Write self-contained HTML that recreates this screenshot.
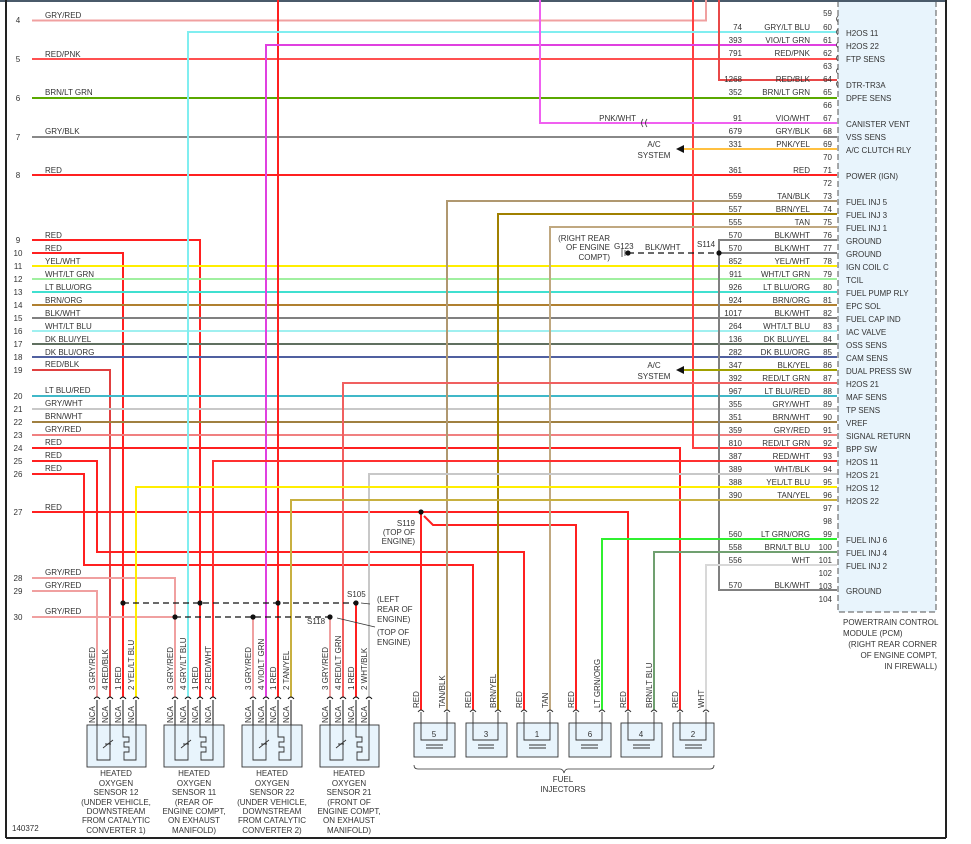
<!DOCTYPE html>
<html><head><meta charset="utf-8"><style>
html,body{margin:0;padding:0;background:#fff;}
svg{display:block;font-family:"Liberation Sans",sans-serif;}
text{font-size:8px;fill:#333;}
</style></head><body>
<svg width="971" height="844" viewBox="0 0 971 844" xmlns="http://www.w3.org/2000/svg">
<rect x="838" y="0" width="98" height="612" fill="#e8f4fc" stroke="#555" stroke-dasharray="6,3"/>
<line x1="0" y1="1" x2="946" y2="1" stroke="#4a5a6a" stroke-width="2"/>
<line x1="6" y1="0" x2="6" y2="838" stroke="#222" stroke-width="2"/>
<line x1="946" y1="0" x2="946" y2="838" stroke="#222" stroke-width="2"/>
<line x1="6" y1="838" x2="946" y2="838" stroke="#222" stroke-width="2"/>
<g fill="none" stroke-width="2">
<!-- left rows -->
<polyline points="32,20.5 706,20.5 706,0" stroke="#f0a0a0"/>
<line x1="32" y1="59" x2="837" y2="59" stroke="#ff5050"/>
<line x1="32" y1="98" x2="837" y2="98" stroke="#5aa800"/>
<line x1="32" y1="137" x2="837" y2="137" stroke="#888"/>
<line x1="32" y1="175" x2="837" y2="175" stroke="#ff2020"/>
<polyline points="32,240 200,240 200,697" stroke="#ff2020"/>
<polyline points="32,253 123,253 123,697" stroke="#ff2020"/>
<line x1="32" y1="266" x2="837" y2="266" stroke="#ffee00"/>
<line x1="32" y1="279" x2="837" y2="279" stroke="#a0f0a0"/>
<line x1="32" y1="292" x2="837" y2="292" stroke="#40e0d0"/>
<line x1="32" y1="305" x2="837" y2="305" stroke="#b08030"/>
<line x1="32" y1="318" x2="837" y2="318" stroke="#808080"/>
<line x1="32" y1="331" x2="837" y2="331" stroke="#a0f0f0"/>
<line x1="32" y1="344" x2="837" y2="344" stroke="#607060"/>
<line x1="32" y1="357" x2="837" y2="357" stroke="#5060a0"/>
<polyline points="32,370 110,370 110,697" stroke="#e04040"/>
<line x1="32" y1="396" x2="837" y2="396" stroke="#40b8c8"/>
<line x1="32" y1="409" x2="837" y2="409" stroke="#c8c8c8"/>
<line x1="32" y1="422" x2="837" y2="422" stroke="#a08040"/>
<line x1="32" y1="435" x2="837" y2="435" stroke="#f08080"/>
<polyline points="32,448 680,448 680,710" stroke="#ff2020"/>
<polyline points="693,0 693,448 837,448" stroke="#ff4040"/>
<polyline points="32,461 97,461 97,552 524,552 524,710" stroke="#ff2020"/>
<polyline points="32,474 84,474 84,565 473,565 473,710" stroke="#ff2020"/>
<polyline points="32,512 628,512 628,710" stroke="#ff2020"/>
<polyline points="421,512 421,710" stroke="#ff2020"/>
<polyline points="424,516 433,525 576,525 576,710" stroke="#ff2020"/>
<polyline points="32,578 175,578 175,697" stroke="#f0a0a0"/>
<polyline points="32,591 97,591 97,697" stroke="#f0a0a0"/>
<polyline points="32,617 175,617" stroke="#f0a0a0"/>
<polyline points="253,617 253,697" stroke="#f0a0a0"/>
<polyline points="330,617 330,697" stroke="#f0a0a0"/>
<polyline points="356,603 356,697" stroke="#ff2020"/>
<polyline points="278,0 278,697" stroke="#ff2020"/>
<!-- right side -->
<polyline points="837,32 188,32 188,697" stroke="#80eef0"/>
<polyline points="837,45 266,45 266,697" stroke="#e040e0"/>
<polyline points="837,80 719,80 719,0" stroke="#e84848"/>
<polyline points="837,123 540,123 540,0" stroke="#f060f0"/>
<polyline points="837,149 684,149" stroke="#ffc040"/>
<polyline points="837,201 447,201 447,710" stroke="#b09870"/>
<polyline points="837,214 498,214 498,710" stroke="#a08000"/>
<polyline points="837,227 550,227 550,710" stroke="#c0a880"/>
<polyline points="837,240 719,240 719,590 837,590" stroke="#808080"/>
<line x1="719" y1="253" x2="837" y2="253" stroke="#808080"/>
<polyline points="837,370 684,370" stroke="#a0a000"/>
<polyline points="837,383 343,383 343,697" stroke="#f06060"/>
<polyline points="837,461 213,461 213,697" stroke="#ff3030"/>
<polyline points="837,474 369,474 369,697" stroke="#c8c8c8"/>
<polyline points="837,487 136,487 136,697" stroke="#ffee00"/>
<polyline points="837,500 291,500 291,697" stroke="#c8b040"/>
<polyline points="837,539 602,539 602,710" stroke="#30f030"/>
<polyline points="837,552 654,552 654,710" stroke="#70a070"/>
<polyline points="837,565 706,565 706,710" stroke="#d8d8d8"/>
</g>
<g stroke="#111" stroke-width="1.3" stroke-dasharray="6,4" fill="none">
<line x1="123" y1="603" x2="356" y2="603"/>
<line x1="175" y1="617" x2="330" y2="617"/>
<line x1="628" y1="253" x2="719" y2="253"/>
</g>
<g fill="#111">
<circle cx="123" cy="603" r="2.6"/><circle cx="200" cy="603" r="2.6"/><circle cx="278" cy="603" r="2.6"/><circle cx="356" cy="603" r="2.6"/>
<circle cx="175" cy="617" r="2.6"/><circle cx="253" cy="617" r="2.6"/><circle cx="330" cy="617" r="2.6"/>
<circle cx="421" cy="512" r="2.6"/><circle cx="719" cy="253" r="2.6"/><circle cx="628" cy="253" r="2.6"/>
<polygon points="676,149 684,145 684,153"/><polygon points="676,370 684,366 684,374"/>
</g>
<g stroke="#333" stroke-width="0.8" fill="none">
<line x1="622" y1="249" x2="622" y2="257"/><line x1="625" y1="250" x2="625" y2="256"/>
<line x1="370" y1="604" x2="361" y2="603"/><line x1="375" y1="627" x2="337" y2="618"/>
<path d="M643,119 q-3,4 0,8 M647,119 q-3,4 0,8"/>
<path d="M414,765 q0,4 4,4 L560,769 q3,0 4,4 q1,-4 4,-4 L710,769 q4,0 4,-4"/>
</g>
<!-- pin marks -->
<g stroke="#444" stroke-width="0.8" fill="none" id="pm">
<path d="M838,16 q-3,3 0,6"/><path d="M838,29 q-3,3 0,6"/><path d="M838,42 q-3,3 0,6"/><path d="M838,55 q-3,3 0,6"/><path d="M838,68 q-3,3 0,6"/><path d="M838,81 q-3,3 0,6"/>
</g>
<g font-size="8">
<!-- left row labels -->
<g text-anchor="middle">
<text x="18" y="23">4</text><text x="18" y="62">5</text><text x="18" y="101">6</text><text x="18" y="140">7</text><text x="18" y="178">8</text>
<text x="18" y="243">9</text><text x="18" y="256">10</text><text x="18" y="269">11</text><text x="18" y="282">12</text><text x="18" y="295">13</text><text x="18" y="308">14</text><text x="18" y="321">15</text><text x="18" y="334">16</text><text x="18" y="347">17</text><text x="18" y="360">18</text><text x="18" y="373">19</text>
<text x="18" y="399">20</text><text x="18" y="412">21</text><text x="18" y="425">22</text><text x="18" y="438">23</text><text x="18" y="451">24</text><text x="18" y="464">25</text><text x="18" y="477">26</text><text x="18" y="515">27</text><text x="18" y="581">28</text><text x="18" y="594">29</text><text x="18" y="620">30</text>
</g>
<text x="45" y="18">GRY/RED</text><text x="45" y="57">RED/PNK</text><text x="45" y="95">BRN/LT GRN</text><text x="45" y="134">GRY/BLK</text><text x="45" y="173">RED</text>
<text x="45" y="238">RED</text><text x="45" y="251">RED</text><text x="45" y="264">YEL/WHT</text><text x="45" y="277">WHT/LT GRN</text><text x="45" y="290">LT BLU/ORG</text><text x="45" y="303">BRN/ORG</text><text x="45" y="316">BLK/WHT</text><text x="45" y="329">WHT/LT BLU</text><text x="45" y="342">DK BLU/YEL</text><text x="45" y="355">DK BLU/ORG</text><text x="45" y="367">RED/BLK</text>
<text x="45" y="393">LT BLU/RED</text><text x="45" y="406">GRY/WHT</text><text x="45" y="419">BRN/WHT</text><text x="45" y="432">GRY/RED</text><text x="45" y="445">RED</text><text x="45" y="458">RED</text><text x="45" y="471">RED</text><text x="45" y="510">RED</text><text x="45" y="575">GRY/RED</text><text x="45" y="588">GRY/RED</text><text x="45" y="614">GRY/RED</text>
<!-- pin numbers -->
<g text-anchor="end">
<text x="832" y="16">59</text><text x="832" y="30">60</text><text x="832" y="43">61</text><text x="832" y="56">62</text><text x="832" y="69">63</text><text x="832" y="82">64</text><text x="832" y="95">65</text><text x="832" y="108">66</text><text x="832" y="121">67</text><text x="832" y="134">68</text><text x="832" y="147">69</text><text x="832" y="160">70</text><text x="832" y="173">71</text><text x="832" y="186">72</text><text x="832" y="199">73</text><text x="832" y="212">74</text><text x="832" y="225">75</text><text x="832" y="238">76</text><text x="832" y="251">77</text><text x="832" y="264">78</text><text x="832" y="277">79</text><text x="832" y="290">80</text><text x="832" y="303">81</text><text x="832" y="316">82</text><text x="832" y="329">83</text><text x="832" y="342">84</text><text x="832" y="355">85</text><text x="832" y="368">86</text><text x="832" y="381">87</text><text x="832" y="394">88</text><text x="832" y="407">89</text><text x="832" y="420">90</text><text x="832" y="433">91</text><text x="832" y="446">92</text><text x="832" y="459">93</text><text x="832" y="472">94</text><text x="832" y="485">95</text><text x="832" y="498">96</text><text x="832" y="511">97</text><text x="832" y="524">98</text><text x="832" y="537">99</text><text x="832" y="550">100</text><text x="832" y="563">101</text><text x="832" y="576">102</text><text x="832" y="589">103</text><text x="832" y="602">104</text>
<!-- circuits -->
<text x="742" y="30">74</text><text x="810" y="30">GRY/LT BLU</text>
<text x="742" y="43">393</text><text x="810" y="43">VIO/LT GRN</text>
<text x="742" y="56">791</text><text x="810" y="56">RED/PNK</text>
<text x="742" y="82">1268</text><text x="810" y="82">RED/BLK</text>
<text x="742" y="95">352</text><text x="810" y="95">BRN/LT GRN</text>
<text x="742" y="121">91</text><text x="810" y="121">VIO/WHT</text><text x="636" y="121">PNK/WHT</text>
<text x="742" y="134">679</text><text x="810" y="134">GRY/BLK</text>
<text x="742" y="147">331</text><text x="810" y="147">PNK/YEL</text>
<text x="742" y="173">361</text><text x="810" y="173">RED</text>
<text x="742" y="199">559</text><text x="810" y="199">TAN/BLK</text>
<text x="742" y="212">557</text><text x="810" y="212">BRN/YEL</text>
<text x="742" y="225">555</text><text x="810" y="225">TAN</text>
<text x="742" y="238">570</text><text x="810" y="238">BLK/WHT</text>
<text x="742" y="251">570</text><text x="810" y="251">BLK/WHT</text>
<text x="742" y="264">852</text><text x="810" y="264">YEL/WHT</text>
<text x="742" y="277">911</text><text x="810" y="277">WHT/LT GRN</text>
<text x="742" y="290">926</text><text x="810" y="290">LT BLU/ORG</text>
<text x="742" y="303">924</text><text x="810" y="303">BRN/ORG</text>
<text x="742" y="316">1017</text><text x="810" y="316">BLK/WHT</text>
<text x="742" y="329">264</text><text x="810" y="329">WHT/LT BLU</text>
<text x="742" y="342">136</text><text x="810" y="342">DK BLU/YEL</text>
<text x="742" y="355">282</text><text x="810" y="355">DK BLU/ORG</text>
<text x="742" y="368">347</text><text x="810" y="368">BLK/YEL</text>
<text x="742" y="381">392</text><text x="810" y="381">RED/LT GRN</text>
<text x="742" y="394">967</text><text x="810" y="394">LT BLU/RED</text>
<text x="742" y="407">355</text><text x="810" y="407">GRY/WHT</text>
<text x="742" y="420">351</text><text x="810" y="420">BRN/WHT</text>
<text x="742" y="433">359</text><text x="810" y="433">GRY/RED</text>
<text x="742" y="446">810</text><text x="810" y="446">RED/LT GRN</text>
<text x="742" y="459">387</text><text x="810" y="459">RED/WHT</text>
<text x="742" y="472">389</text><text x="810" y="472">WHT/BLK</text>
<text x="742" y="485">388</text><text x="810" y="485">YEL/LT BLU</text>
<text x="742" y="498">390</text><text x="810" y="498">TAN/YEL</text>
<text x="742" y="537">560</text><text x="810" y="537">LT GRN/ORG</text>
<text x="742" y="550">558</text><text x="810" y="550">BRN/LT BLU</text>
<text x="742" y="563">556</text><text x="810" y="563">WHT</text>
<text x="742" y="588">570</text><text x="810" y="588">BLK/WHT</text>
<text x="610" y="241">(RIGHT REAR</text><text x="610" y="250">OF ENGINE</text><text x="610" y="260">COMPT)</text>
<text x="415" y="526">S119</text><text x="415" y="535">(TOP OF</text><text x="415" y="544">ENGINE)</text>
</g>
<!-- functions -->
<text x="846" y="36">H2OS 11</text><text x="846" y="49">H2OS 22</text><text x="846" y="62">FTP SENS</text><text x="846" y="88">DTR-TR3A</text><text x="846" y="101">DPFE SENS</text><text x="846" y="127">CANISTER VENT</text><text x="846" y="140">VSS SENS</text><text x="846" y="153">A/C CLUTCH RLY</text><text x="846" y="179">POWER (IGN)</text>
<text x="846" y="205">FUEL INJ 5</text><text x="846" y="218">FUEL INJ 3</text><text x="846" y="231">FUEL INJ 1</text><text x="846" y="244">GROUND</text><text x="846" y="257">GROUND</text><text x="846" y="270">IGN COIL C</text><text x="846" y="283">TCIL</text><text x="846" y="296">FUEL PUMP RLY</text><text x="846" y="309">EPC SOL</text><text x="846" y="322">FUEL CAP IND</text><text x="846" y="335">IAC VALVE</text><text x="846" y="348">OSS SENS</text><text x="846" y="361">CAM SENS</text><text x="846" y="374">DUAL PRESS SW</text><text x="846" y="387">H2OS 21</text><text x="846" y="400">MAF SENS</text><text x="846" y="413">TP SENS</text><text x="846" y="426">VREF</text><text x="846" y="439">SIGNAL RETURN</text><text x="846" y="452">BPP SW</text><text x="846" y="465">H2OS 11</text><text x="846" y="478">H2OS 21</text><text x="846" y="491">H2OS 12</text><text x="846" y="504">H2OS 22</text><text x="846" y="543">FUEL INJ 6</text><text x="846" y="556">FUEL INJ 4</text><text x="846" y="569">FUEL INJ 2</text><text x="846" y="594">GROUND</text>
<text x="843" y="625">POWERTRAIN CONTROL</text><text x="843" y="636">MODULE (PCM)</text>
<g text-anchor="end"><text x="937" y="647">(RIGHT REAR CORNER</text><text x="937" y="658">OF ENGINE COMPT,</text><text x="937" y="669">IN FIREWALL)</text></g>
<g text-anchor="middle">
<text x="654" y="147">A/C</text><text x="654" y="158">SYSTEM</text>
<text x="654" y="368">A/C</text><text x="654" y="379">SYSTEM</text>
</g>
<text x="614" y="249">G123</text><text x="645" y="250">BLK/WHT</text><text x="697" y="247">S114</text>
<text x="347" y="597">S105</text><text x="377" y="602">(LEFT</text><text x="377" y="612">REAR OF</text><text x="377" y="622">ENGINE)</text>
<text x="307" y="624">S118</text><text x="377" y="635">(TOP OF</text><text x="377" y="645">ENGINE)</text>
<text x="12" y="831">140372</text>
<text x="563" y="782" text-anchor="middle">FUEL</text><text x="563" y="792" text-anchor="middle">INJECTORS</text>
</g>
<!-- sensors -->
<g id="sensors" font-size="7.5">
<g stroke="#111" stroke-width="1" fill="none">
<path d="M97,700 V725 M110,700 V725 M123,700 V725 M136,700 V725 M175,700 V725 M188,700 V725 M200,700 V725 M213,700 V725 M253,700 V725 M266,700 V725 M278,700 V725 M291,700 V725 M330,700 V725 M343,700 V725 M356,700 V725 M369,700 V725"/>
<path d="M94,699 q3,-4 6,0 M107,699 q3,-4 6,0 M120,699 q3,-4 6,0 M133,699 q3,-4 6,0 M172,699 q3,-4 6,0 M185,699 q3,-4 6,0 M197,699 q3,-4 6,0 M210,699 q3,-4 6,0 M250,699 q3,-4 6,0 M263,699 q3,-4 6,0 M275,699 q3,-4 6,0 M288,699 q3,-4 6,0 M327,699 q3,-4 6,0 M340,699 q3,-4 6,0 M353,699 q3,-4 6,0 M366,699 q3,-4 6,0"/>
</g>
<g stroke="#333" stroke-width="0.9" fill="#e8f4fc">
<rect x="87" y="725" width="59" height="42"/><rect x="164" y="725" width="60" height="42"/><rect x="242" y="725" width="60" height="42"/><rect x="320" y="725" width="59" height="42"/>
</g>
<g stroke="#333" stroke-width="0.9" fill="none">
<path d="M97,725 V760 H110 V725 M123,725 V737 H129 V742 H124 V747 H129 V752 H124 V760 H136 V725 M103,748 l10,-8 M105,744 h6"/>
<path d="M175,725 V760 H188 V725 M200,725 V737 H206 V742 H201 V747 H206 V752 H201 V760 H213 V725 M181,748 l10,-8 M183,744 h6"/>
<path d="M253,725 V760 H266 V725 M278,725 V737 H284 V742 H279 V747 H284 V752 H279 V760 H291 V725 M259,748 l10,-8 M261,744 h6"/>
<path d="M330,725 V760 H343 V725 M356,725 V737 H362 V742 H357 V747 H362 V752 H357 V760 H369 V725 M336,748 l10,-8 M338,744 h6"/>
</g>
<g>
<text transform="translate(95,690) rotate(-90)">3 GRY/RED</text><text transform="translate(108,690) rotate(-90)">4 RED/BLK</text><text transform="translate(121,690) rotate(-90)">1 RED</text><text transform="translate(134,690) rotate(-90)">2 YEL/LT BLU</text>
<text transform="translate(173,690) rotate(-90)">3 GRY/RED</text><text transform="translate(186,690) rotate(-90)">4 GRY/LT BLU</text><text transform="translate(198,690) rotate(-90)">1 RED</text><text transform="translate(211,690) rotate(-90)">2 RED/WHT</text>
<text transform="translate(251,690) rotate(-90)">3 GRY/RED</text><text transform="translate(264,690) rotate(-90)">4 VIO/LT GRN</text><text transform="translate(276,690) rotate(-90)">1 RED</text><text transform="translate(289,690) rotate(-90)">2 TAN/YEL</text>
<text transform="translate(328,690) rotate(-90)">3 GRY/RED</text><text transform="translate(341,690) rotate(-90)">4 RED/LT GRN</text><text transform="translate(354,690) rotate(-90)">1 RED</text><text transform="translate(367,690) rotate(-90)">2 WHT/BLK</text>
<text transform="translate(95,723) rotate(-90)">NCA</text><text transform="translate(108,723) rotate(-90)">NCA</text><text transform="translate(121,723) rotate(-90)">NCA</text><text transform="translate(134,723) rotate(-90)">NCA</text>
<text transform="translate(173,723) rotate(-90)">NCA</text><text transform="translate(186,723) rotate(-90)">NCA</text><text transform="translate(198,723) rotate(-90)">NCA</text><text transform="translate(211,723) rotate(-90)">NCA</text>
<text transform="translate(251,723) rotate(-90)">NCA</text><text transform="translate(264,723) rotate(-90)">NCA</text><text transform="translate(276,723) rotate(-90)">NCA</text><text transform="translate(289,723) rotate(-90)">NCA</text>
<text transform="translate(328,723) rotate(-90)">NCA</text><text transform="translate(341,723) rotate(-90)">NCA</text><text transform="translate(354,723) rotate(-90)">NCA</text><text transform="translate(367,723) rotate(-90)">NCA</text>
</g>
<g text-anchor="middle">
<text x="116" y="776">HEATED</text><text x="116" y="786">OXYGEN</text><text x="116" y="795">SENSOR 12</text><text x="116" y="805">(UNDER VEHICLE,</text><text x="116" y="814">DOWNSTREAM</text><text x="116" y="823">FROM CATALYTIC</text><text x="116" y="833">CONVERTER 1)</text>
<text x="194" y="776">HEATED</text><text x="194" y="786">OXYGEN</text><text x="194" y="795">SENSOR 11</text><text x="194" y="805">(REAR OF</text><text x="194" y="814">ENGINE COMPT,</text><text x="194" y="823">ON EXHAUST</text><text x="194" y="833">MANIFOLD)</text>
<text x="272" y="776">HEATED</text><text x="272" y="786">OXYGEN</text><text x="272" y="795">SENSOR 22</text><text x="272" y="805">(UNDER VEHICLE,</text><text x="272" y="814">DOWNSTREAM</text><text x="272" y="823">FROM CATALYTIC</text><text x="272" y="833">CONVERTER 2)</text>
<text x="349" y="776">HEATED</text><text x="349" y="786">OXYGEN</text><text x="349" y="795">SENSOR 21</text><text x="349" y="805">(FRONT OF</text><text x="349" y="814">ENGINE COMPT,</text><text x="349" y="823">ON EXHAUST</text><text x="349" y="833">MANIFOLD)</text>
</g>
</g>
<!-- injectors -->
<g stroke="#333" stroke-width="0.9" fill="#e8f4fc">
<rect x="414" y="723" width="41" height="34"/><rect x="466" y="723" width="41" height="34"/><rect x="517" y="723" width="41" height="34"/><rect x="569" y="723" width="42" height="34"/><rect x="621" y="723" width="41" height="34"/><rect x="673" y="723" width="41" height="34"/>
</g>
<g stroke="#333" stroke-width="0.9" fill="none">
<path d="M418,712 q3,-4 6,0 M444,712 q3,-4 6,0 M470,712 q3,-4 6,0 M495,712 q3,-4 6,0 M521,712 q3,-4 6,0 M547,712 q3,-4 6,0 M573,712 q3,-4 6,0 M599,712 q3,-4 6,0 M625,712 q3,-4 6,0 M651,712 q3,-4 6,0 M677,712 q3,-4 6,0 M703,712 q3,-4 6,0"/>
<path d="M421,712 V740 H447 V712 M473,712 V740 H498 V712 M524,712 V740 H550 V712 M576,712 V740 H602 V712 M628,712 V740 H654 V712 M680,712 V740 H706 V712"/>
<path d="M426,745 H443 M426,748 H443 M478,745 H494 M478,748 H494 M529,745 H546 M529,748 H546 M581,745 H598 M581,748 H598 M633,745 H650 M633,748 H650 M685,745 H702 M685,748 H702"/>
</g>
<g font-size="8" text-anchor="middle">
<text x="434" y="737">5</text><text x="486" y="737">3</text><text x="537" y="737">1</text><text x="590" y="737">6</text><text x="641" y="737">4</text><text x="693" y="737">2</text>
</g>
<g font-size="7.5">
<text transform="translate(419,708) rotate(-90)">RED</text><text transform="translate(445,708) rotate(-90)">TAN/BLK</text>
<text transform="translate(471,708) rotate(-90)">RED</text><text transform="translate(496,708) rotate(-90)">BRN/YEL</text>
<text transform="translate(522,708) rotate(-90)">RED</text><text transform="translate(548,708) rotate(-90)">TAN</text>
<text transform="translate(574,708) rotate(-90)">RED</text><text transform="translate(600,708) rotate(-90)">LT GRN/ORG</text>
<text transform="translate(626,708) rotate(-90)">RED</text><text transform="translate(652,708) rotate(-90)">BRN/LT BLU</text>
<text transform="translate(678,708) rotate(-90)">RED</text><text transform="translate(704,708) rotate(-90)">WHT</text>
</g>
</svg>
</body></html>
